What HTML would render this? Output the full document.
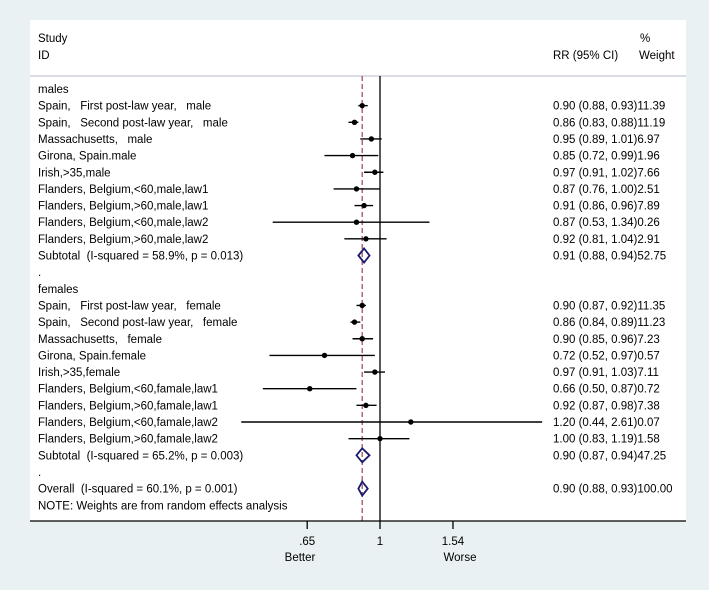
<!DOCTYPE html>
<html><head><meta charset="utf-8"><style>
body{margin:0;background:#eaf1f2;}
svg{display:block;font-family:"Liberation Sans",Arial,sans-serif;}
text{white-space:pre;}
</style></head><body>
<svg id="c" width="709" height="590">
<rect x="0" y="0" width="709" height="590" fill="#eaf1f2"/>
<rect x="30" y="20" width="656" height="501" fill="#ffffff"/>
<line x1="30" y1="76" x2="686" y2="76" stroke="#c8c8dc" stroke-width="1.2"/>
<text x="38" y="42" font-size="11.5">Study</text>
<text x="38" y="59" font-size="11.5">ID</text>
<text x="553" y="59" font-size="11.5">RR (95% CI)</text>
<text x="640" y="42" font-size="11.5">%</text>
<text x="639" y="59" font-size="11.5">Weight</text>
<g id="g"></g>
</svg>
<script>
const labels=["males","Spain,   First post-law year,   male","Spain,   Second post-law year,   male","Massachusetts,   male","Girona, Spain.male","Irish,>35,male","Flanders, Belgium,<60,male,law1","Flanders, Belgium,>60,male,law1","Flanders, Belgium,<60,male,law2","Flanders, Belgium,>60,male,law2","Subtotal  (I-squared = 58.9%, p = 0.013)",".","females","Spain,   First post-law year,   female","Spain,   Second post-law year,   female","Massachusetts,   female","Girona, Spain.female","Irish,>35,female","Flanders, Belgium,<60,famale,law1","Flanders, Belgium,>60,famale,law1","Flanders, Belgium,<60,famale,law2","Flanders, Belgium,>60,famale,law2","Subtotal  (I-squared = 65.2%, p = 0.003)",".","Overall  (I-squared = 60.1%, p = 0.001)","NOTE: Weights are from random effects analysis"];
const kinds=["h","s","s","s","s","s","s","s","s","s","d","","h","s","s","s","s","s","s","s","s","s","d","","d",""];
const rr=[null,0.90,0.86,0.95,0.85,0.97,0.87,0.91,0.87,0.92,0.91,null,null,0.90,0.86,0.90,0.72,0.97,0.66,0.92,1.20,1.00,0.90,null,0.90,null];
const lo=[null,0.88,0.83,0.89,0.72,0.91,0.76,0.86,0.53,0.81,0.88,null,null,0.87,0.84,0.85,0.52,0.91,0.50,0.87,0.44,0.83,0.87,null,0.88,null];
const hi=[null,0.93,0.88,1.01,0.99,1.02,1.00,0.96,1.34,1.04,0.94,null,null,0.92,0.89,0.96,0.97,1.03,0.87,0.98,2.61,1.19,0.94,null,0.93,null];
const wt=[null,"11.39","11.19","6.97","1.96","7.66","2.51","7.89","0.26","2.91","52.75",null,null,"11.35","11.23","7.23","0.57","7.11","0.72","7.38","0.07","1.58","47.25",null,"100.00",null];
const ticks=[0.65,1,1.54];
const tickLabels=[".65","1","1.54"];
const overall=0.90;
const NS="http://www.w3.org/2000/svg";
const g=document.getElementById('g');
const X=v=>380+169*Math.log(v);
const Y=i=>89+16.65*i;
const XMIN=230,XMAX=686;
function mk(t,a){const e=document.createElementNS(NS,t);for(const k in a)e.setAttribute(k,a[k]);g.appendChild(e);return e;}
const f2=v=>v.toFixed(2);
let l=mk('line',{x1:X(1),x2:X(1),y1:76,y2:521,stroke:'#000','stroke-width':1.3});


l=mk('line',{x1:X(overall),x2:X(overall),y1:76,y2:521,stroke:'#a0525a','stroke-width':1.3,'stroke-dasharray':'5,3'});


labels.forEach((s,i)=>{
  const y=Y(i);
  const t=mk('text',{x:38,y:y+4,'font-size':11.5});t.textContent=s;
  
  
  if(rr[i]==null)return;
  const v=mk('text',{x:553,y:y+4,'font-size':11.5});
  v.textContent=f2(rr[i])+" ("+f2(lo[i])+", "+f2(hi[i])+")"+wt[i];
  
  
  if(kinds[i]=="s"){
    const x1=Math.max(XMIN,X(lo[i])),x2=Math.min(XMAX,X(hi[i]));
    const c=mk('line',{x1:x1,x2:x2,y1:y,y2:y,stroke:'#000','stroke-width':1.4});
    
    
    const d=mk('circle',{cx:X(rr[i]),cy:y,r:2.7,fill:'#000'});
    
    
  } else if(kinds[i]=="d"){
    const a=X(lo[i]),b=X(hi[i]),m=X(rr[i]);
    const p=mk('polygon',{points:`${a},${y} ${m},${y-7} ${b},${y} ${m},${y+7}`,fill:'none',stroke:'#1a1a6e','stroke-width':1.8});
    
    
  }
});
l=mk('line',{x1:30,x2:686,y1:521,y2:521,stroke:'#000','stroke-width':1.3});


ticks.forEach((v,i)=>{
  const k=mk('line',{x1:X(v),x2:X(v),y1:521,y2:529,stroke:'#000','stroke-width':1.3});
  
  
  const t=mk('text',{x:X(v),y:545,'font-size':11.5,'text-anchor':'middle'});t.textContent=tickLabels[i];
  
  
});
let t=mk('text',{x:300,y:561,'font-size':11.5,'text-anchor':'middle'});t.textContent="Better";


t=mk('text',{x:460,y:561,'font-size':11.5,'text-anchor':'middle'});t.textContent="Worse";


</script>
</body></html>
